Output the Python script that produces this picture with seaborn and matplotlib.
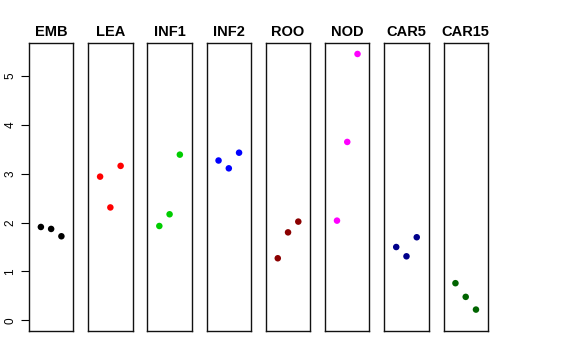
import matplotlib
matplotlib.use("Agg")
import pandas as pd
import matplotlib.pyplot as plt
import seaborn as sns

# Valores
tecidos = ["EMB", "LEA", "INF1", "INF2", "ROO", "NOD", "CAR5", "CAR15"]
cores = ["#000000", "#FF0000", "#00CD00", "#0000FF", "#8B0000", "#FF00FF", "#00008B", "#006400"]
replicas = [1, 2, 3]
valores = {
    "EMB": [1.91, 1.87, 1.72],
    "LEA": [2.94, 2.31, 3.16],
    "INF1": [1.93, 2.17, 3.39],
    "INF2": [3.27, 3.11, 3.43],
    "ROO": [1.27, 1.80, 2.02],
    "NOD": [2.04, 3.65, 5.45],
    "CAR5": [1.50, 1.31, 1.70],
    "CAR15": [0.76, 0.48, 0.22],
}

linhas = []
for t in tecidos:
    for r, v in zip(replicas, valores[t]):
        linhas.append({"tecido": t, "replica": r, "valor": v})
df = pd.DataFrame(linhas)

sns.set_style("white")
plt.rcParams["font.family"] = ["Liberation Sans", "DejaVu Sans"]

fig, axes = plt.subplots(1, len(tecidos), figsize=(5.76, 3.6), dpi=100, sharey=True)
fig.subplots_adjust(left=0.0503, right=0.847, top=0.8797, bottom=0.0806, wspace=0.336)

ymax = max(max(v) for v in valores.values())
pad = ymax * 0.04

for ax, t, c in zip(axes, tecidos, cores):
    sub = df[df["tecido"] == t]
    sns.scatterplot(data=sub, x="replica", y="valor", color=c, s=22,
                    edgecolor="none", ax=ax, legend=False)
    ax.set_xlim(-0.16, 4.16)
    ax.set_ylim(-pad, ymax + pad)
    ax.set_xticks([])
    ax.set_xlabel("")
    ax.set_ylabel("")
    ax.set_title(t, fontsize=10.5, fontweight="bold", pad=5, color="black")
    for s in ax.spines.values():
        s.set_visible(True)
        s.set_color("#111111")
        s.set_linewidth(1.0)
    ax.tick_params(axis="y", left=False, labelleft=False)

ax0 = axes[0]
ax0.set_yticks([0, 1, 2, 3, 4, 5])
ax0.tick_params(axis="y", left=True, labelleft=True, length=6, width=0.8,
                labelsize=8.5, pad=3, direction="out", color="black", labelcolor="black")
for lab in ax0.get_yticklabels():
    lab.set_rotation(90)
    lab.set_va("center")

fig.savefig("out.png", dpi=100)
